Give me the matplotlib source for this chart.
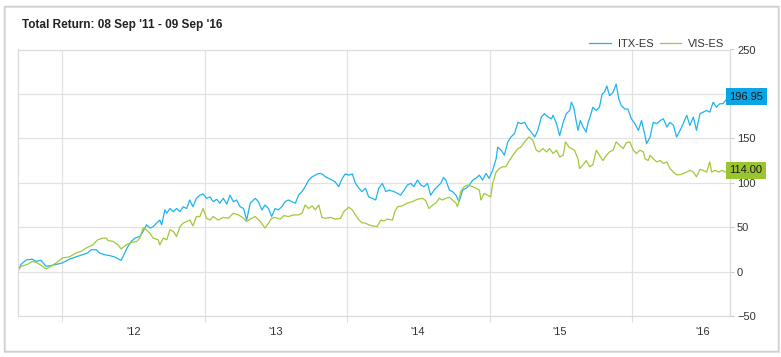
import pandas as pd
import matplotlib
matplotlib.use('Agg')
import matplotlib.pyplot as plt
import matplotlib.dates as mdates
from matplotlib.patches import Rectangle

plt.rcParams['font.family'] = ['Liberation Sans', 'DejaVu Sans']

# ITX-ES total return (%)
itx_dates = ['2011-09-08', '2011-09-17', '2011-09-30', '2011-10-16', '2011-10-25', '2011-11-07',
             '2011-11-20', '2011-12-03', '2011-12-16', '2012-01-01', '2012-01-19', '2012-02-05',
             '2012-02-22', '2012-03-06', '2012-03-15', '2012-03-28', '2012-04-05', '2012-04-18',
             '2012-05-01', '2012-05-14', '2012-05-27', '2012-05-31', '2012-06-09', '2012-06-17',
             '2012-06-26', '2012-07-05', '2012-07-18', '2012-07-26', '2012-08-04', '2012-08-13',
             '2012-08-21', '2012-08-30', '2012-09-07', '2012-09-12', '2012-09-20', '2012-09-25',
             '2012-10-03', '2012-10-12', '2012-10-20', '2012-10-29', '2012-11-06', '2012-11-15',
             '2012-11-23', '2012-12-01', '2012-12-10', '2012-12-19', '2012-12-27', '2013-01-05',
             '2013-01-14', '2013-01-22', '2013-01-31', '2013-02-08', '2013-02-17', '2013-02-26',
             '2013-03-06', '2013-03-15', '2013-03-23', '2013-04-01', '2013-04-10', '2013-04-18',
             '2013-04-27', '2013-05-10', '2013-05-18', '2013-05-27', '2013-06-04', '2013-06-13',
             '2013-06-21', '2013-06-30', '2013-07-08', '2013-07-17', '2013-07-26', '2013-08-03',
             '2013-08-12', '2013-08-21', '2013-08-29', '2013-09-07', '2013-09-15', '2013-09-24',
             '2013-10-03', '2013-10-11', '2013-10-20', '2013-10-28', '2013-11-06', '2013-11-14',
             '2013-11-23', '2013-12-01', '2013-12-10', '2013-12-19', '2013-12-27', '2014-01-05',
             '2014-01-14', '2014-01-22', '2014-01-31', '2014-02-08', '2014-02-17', '2014-02-25',
             '2014-03-06', '2014-03-15', '2014-03-23', '2014-04-01', '2014-04-10', '2014-04-18',
             '2014-05-01', '2014-05-10', '2014-05-18', '2014-05-27', '2014-06-04', '2014-06-13',
             '2014-06-21', '2014-06-30', '2014-07-09', '2014-07-17', '2014-07-26', '2014-08-03',
             '2014-08-12', '2014-08-21', '2014-08-29', '2014-09-05', '2014-09-11', '2014-09-20',
             '2014-09-28', '2014-10-07', '2014-10-15', '2014-10-24', '2014-11-02', '2014-11-10',
             '2014-11-19', '2014-11-27', '2014-12-06', '2014-12-14', '2014-12-23', '2014-12-31',
             '2015-01-09', '2015-01-18', '2015-01-22', '2015-01-31', '2015-02-08', '2015-02-17',
             '2015-02-25', '2015-03-06', '2015-03-15', '2015-03-23', '2015-04-01', '2015-04-10',
             '2015-04-18', '2015-04-27', '2015-05-05', '2015-05-14', '2015-05-22', '2015-05-31',
             '2015-06-09', '2015-06-13', '2015-06-22', '2015-06-30', '2015-07-09', '2015-07-17',
             '2015-07-26', '2015-07-30', '2015-08-05', '2015-08-12', '2015-08-16', '2015-08-22',
             '2015-08-29', '2015-09-06', '2015-09-11', '2015-09-16', '2015-09-23', '2015-10-02',
             '2015-10-10', '2015-10-17', '2015-10-23', '2015-10-29', '2015-11-05', '2015-11-14',
             '2015-11-22', '2015-11-29', '2015-12-05', '2015-12-14', '2015-12-22', '2015-12-31',
             '2016-01-09', '2016-01-18', '2016-01-26', '2016-02-04', '2016-02-08', '2016-02-17',
             '2016-02-25', '2016-03-05', '2016-03-14', '2016-03-22', '2016-03-31', '2016-04-08',
             '2016-04-17', '2016-04-25', '2016-05-04', '2016-05-12', '2016-05-21', '2016-05-29',
             '2016-06-07', '2016-06-15', '2016-06-24', '2016-07-02', '2016-07-11', '2016-07-19',
             '2016-07-28', '2016-08-05', '2016-08-14', '2016-08-22', '2016-08-31', '2016-09-09']
itx_vals = [0, 8, 13, 14, 11.5, 12.7,
            6, 6.7, 8, 9.7, 14, 16.5,
            19, 21, 24.6, 24.6, 21, 19,
            18, 16.5, 13.4, 12.7, 21, 28,
            34, 37.7, 39.5, 45, 52.6, 49,
            50.7, 54.5, 58, 52.6, 69.4, 65.7,
            71, 67.5, 71, 67.5, 73, 71,
            80.6, 73, 82.5, 86, 87.4, 82.5,
            84, 78.7, 81.4, 77, 82.5, 76,
            86, 78.7, 80.6, 73, 71, 58,
            77, 82.5, 78.7, 69.4, 75, 71,
            62, 71, 69.4, 73, 78.7, 80.6,
            78.7, 77, 86, 90, 95.6, 103,
            106.7, 108.6, 110.5, 110, 106.7, 105,
            103, 101, 95.6, 105, 110, 108.6,
            110, 99.3, 93.8, 90, 93.8, 84,
            82.5, 80.6, 93.8, 99.3, 90, 91.8,
            90, 88, 86, 91.8, 97.4, 99.3,
            95.6, 103, 97.4, 95.6, 99.3, 86,
            91.8, 96, 99.3, 106, 103, 91.8,
            90, 86, 78.7, 91.8, 93.8, 97.4,
            103, 105, 108.6, 103, 110.5, 105,
            114, 127, 140, 136.6, 131, 146,
            151.5, 155.3, 168, 166.5, 168, 161,
            157, 151.5, 159, 174, 177.7, 174,
            172, 176, 166.5, 153, 168, 177.7,
            181.4, 190.7, 185, 168, 159, 170,
            162.7, 157, 168, 174, 185, 181.4,
            185, 200, 202, 209, 198, 202,
            211, 194, 187, 183, 183, 172,
            166.5, 159, 170, 153, 144, 151.5,
            168, 166.5, 170, 172, 162.7, 168,
            164.6, 151.5, 159, 166.5, 176, 164.6,
            174, 159, 177.7, 179.5, 181.4, 179.5,
            190.7, 185, 189, 189, 194, 196.95]

# VIS-ES total return (%)
vis_dates = ['2011-09-08', '2011-09-17', '2011-10-03', '2011-10-16', '2011-10-29', '2011-11-11',
             '2011-11-20', '2011-12-03', '2011-12-16', '2012-01-01', '2012-01-19', '2012-02-05',
             '2012-02-18', '2012-03-02', '2012-03-19', '2012-04-01', '2012-04-14', '2012-04-23',
             '2012-04-27', '2012-05-10', '2012-05-23', '2012-05-31', '2012-06-13', '2012-06-26',
             '2012-07-10', '2012-07-18', '2012-07-26', '2012-08-04', '2012-08-13', '2012-08-21',
             '2012-09-03', '2012-09-07', '2012-09-16', '2012-09-25', '2012-10-03', '2012-10-12',
             '2012-10-20', '2012-10-29', '2012-11-06', '2012-11-15', '2012-11-23', '2012-12-01',
             '2012-12-10', '2012-12-19', '2012-12-27', '2013-01-05', '2013-01-14', '2013-01-22',
             '2013-02-04', '2013-02-17', '2013-03-02', '2013-03-15', '2013-03-28', '2013-04-10',
             '2013-04-18', '2013-04-27', '2013-05-10', '2013-05-23', '2013-06-04', '2013-06-13',
             '2013-06-21', '2013-06-30', '2013-07-13', '2013-07-22', '2013-08-03', '2013-08-16',
             '2013-08-29', '2013-09-07', '2013-09-15', '2013-09-24', '2013-10-03', '2013-10-11',
             '2013-10-20', '2013-10-28', '2013-11-06', '2013-11-19', '2013-12-01', '2013-12-15',
             '2013-12-23', '2014-01-05', '2014-01-14', '2014-01-22', '2014-01-31', '2014-02-08',
             '2014-02-17', '2014-02-25', '2014-03-06', '2014-03-19', '2014-03-28', '2014-04-05',
             '2014-04-14', '2014-04-27', '2014-05-03', '2014-05-10', '2014-05-22', '2014-06-04',
             '2014-06-17', '2014-06-30', '2014-07-13', '2014-07-21', '2014-07-30', '2014-08-08',
             '2014-08-16', '2014-08-25', '2014-09-02', '2014-09-11', '2014-09-20', '2014-09-28',
             '2014-10-07', '2014-10-11', '2014-10-19', '2014-10-28', '2014-11-05', '2014-11-19',
             '2014-11-27', '2014-12-06', '2014-12-10', '2014-12-18', '2014-12-27', '2015-01-04',
             '2015-01-09', '2015-01-18', '2015-01-26', '2015-02-04', '2015-02-12', '2015-02-21',
             '2015-03-02', '2015-03-15', '2015-03-22', '2015-04-01', '2015-04-12', '2015-04-22',
             '2015-05-01', '2015-05-09', '2015-05-18', '2015-05-27', '2015-06-04', '2015-06-13',
             '2015-06-22', '2015-06-30', '2015-07-09', '2015-07-15', '2015-07-24', '2015-07-30',
             '2015-08-07', '2015-08-16', '2015-08-20', '2015-08-29', '2015-09-06', '2015-09-15',
             '2015-09-23', '2015-10-02', '2015-10-10', '2015-10-19', '2015-10-28', '2015-11-05',
             '2015-11-14', '2015-11-22', '2015-12-01', '2015-12-10', '2015-12-18', '2015-12-27',
             '2016-01-05', '2016-01-13', '2016-01-22', '2016-01-31', '2016-02-04', '2016-02-12',
             '2016-02-17', '2016-02-25', '2016-03-05', '2016-03-14', '2016-03-22', '2016-03-31',
             '2016-04-08', '2016-04-17', '2016-04-25', '2016-05-04', '2016-05-12', '2016-05-21',
             '2016-05-29', '2016-06-07', '2016-06-15', '2016-06-24', '2016-07-02', '2016-07-11',
             '2016-07-19', '2016-07-24', '2016-08-02', '2016-08-11', '2016-08-19', '2016-08-28',
             '2016-09-09']
vis_vals = [0, 6, 8, 11.5, 9.7, 6,
            3, 6, 9.7, 15.3, 16.5, 21,
            22.7, 26.5, 30, 35.8, 37.7, 37.7,
            35, 34, 30, 25.5, 30, 32.8,
            34, 37.7, 49, 47, 43, 37.7,
            35.8, 30, 37.7, 35.8, 47, 45,
            39.5, 50.7, 54.5, 56.3, 58, 51.5,
            62, 62, 71, 60, 58, 62,
            58, 61, 60, 65.7, 63.8, 60,
            56.3, 59, 62, 56.3, 49, 54.5,
            60, 61, 59, 63, 62, 63.8,
            63.8, 65.7, 75, 71, 74, 69.4,
            75, 61, 60, 61, 59, 60,
            67.5, 72.4, 69.4, 63.8, 58, 55,
            54.5, 52.6, 51.5, 50.7, 58, 57,
            59, 58, 67.5, 73, 74, 77,
            78.7, 81.4, 82.5, 80, 71, 75,
            77, 82.5, 80.6, 82.5, 83.6, 80.6,
            77, 73, 90, 95.6, 97.4, 95.6,
            93.8, 91.8, 80.6, 88, 86, 84,
            99.3, 112, 116, 118, 118, 125,
            131, 138.5, 140, 146, 151.5, 148,
            136.6, 134.7, 138.5, 134.7, 138.5, 133,
            136.6, 129, 131, 146, 140, 138.5,
            136.6, 127, 116, 120, 125, 118,
            120, 136.6, 131, 125, 131, 134.7,
            136.6, 146, 142, 138.5, 145, 146,
            136.6, 133, 136.6, 134.7, 127, 125,
            131, 127, 123.5, 125, 121.7, 123.5,
            116, 112, 109, 109, 110.5, 112,
            114, 112, 106.7, 115, 114, 112,
            123.5, 112, 114, 112, 114, 112,
            114.00]

series = [('ITX-ES', itx_dates, itx_vals, '#1eb4ee', '#0ba4e4'),
          ('VIS-ES', vis_dates, vis_vals, '#a2c83a', '#9bc431')]

fig = plt.figure(figsize=(7.81, 3.57), dpi=100)
# card border with a faint shadow
fig.patches.append(Rectangle((5 / 781, 1 - 352 / 357), 774 / 781, 345 / 357, transform=fig.transFigure,
                             fill=False, edgecolor='#e4e4e4', lw=1.5, zorder=-2))
fig.patches.append(Rectangle((4 / 781, 1 - 351 / 357), 774 / 781, 345 / 357, transform=fig.transFigure,
                             fill=False, edgecolor='#d0d0d0', lw=1.0, zorder=-1))

ax = fig.add_axes([17.5 / 781, 1 - 316 / 357, (730 - 17.5) / 781, (316 - 49.5) / 357])
ax.patch.set_alpha(0)

for name, d, v, c, tag in series:
    x = pd.to_datetime(d)
    ax.plot(x, v, color=c, lw=0.9, label=name)
    # last value tag
    ax.annotate(f'{v[-1]:.2f}', xy=(x[-1], v[-1]), xytext=(-0.5, 0), textcoords='offset points',
                ha='left', va='center', fontsize=8, color='#1a1a1a', annotation_clip=False, zorder=10,
                bbox=dict(boxstyle='square,pad=0.3', fc=tag, ec='none'))

ax.set_xlim(pd.Timestamp('2011-09-08'), pd.Timestamp('2016-09-09'))
ax.set_ylim(-50, 250)
ax.set_yticks(range(-50, 251, 50))
ax.yaxis.tick_right()
ax.tick_params(axis='y', length=3, color='#cccccc', labelcolor='#333333', labelsize=8, pad=2)

ax.xaxis.set_major_locator(mdates.YearLocator())
ax.xaxis.set_major_formatter(plt.NullFormatter())
ax.xaxis.set_minor_locator(mdates.MonthLocator(bymonth=7))
ax.xaxis.set_minor_formatter(mdates.DateFormatter("'%y"))
ax.tick_params(axis='x', which='major', length=4, color='#dddddd')
ax.tick_params(axis='x', which='minor', length=0, labelcolor='#333333', labelsize=8, pad=8)

ax.grid(True, which='major', color='#e2e2e2', lw=0.9)
ax.set_axisbelow(True)
for s in ax.spines.values():
    s.set_color('#dcdcdc')
    s.set_linewidth(0.9)

fig.text(22 / 781, 1 - 25 / 357, "Total Return: 08 Sep '11 - 09 Sep '16", fontsize=8.5,
         fontweight='bold', color='#222222', va='center')
fig.legend(loc='center right', bbox_to_anchor=(0.935, 1 - 44 / 357), ncol=2, frameon=False,
           fontsize=8, handlelength=1.9, columnspacing=0.5, handletextpad=0.7, borderpad=0,
           labelcolor='#333333')

plt.savefig('out.png', dpi=100)
